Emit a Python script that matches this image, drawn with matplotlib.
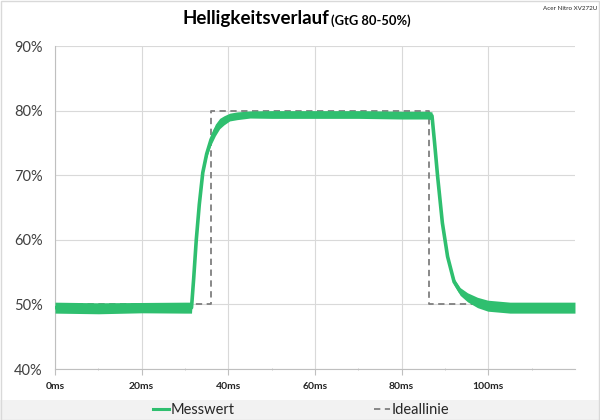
import matplotlib.pyplot as plt
from matplotlib.lines import Line2D
from matplotlib.patches import Rectangle
import numpy as np

plt.rcParams['font.family'] = ['Lato', 'DejaVu Sans']

# Messwert: time in ms, band centre and half band width in %
t_ms = [0, 10, 20, 30, 31.5, 32.0, 32.6, 33.3, 34.1, 35.0,
        36.0, 37.0, 38.0, 39.0, 40.3, 42, 45, 50, 60, 70,
        80, 86.0, 87.0, 87.6, 88.3, 89.4, 90.6, 92.1, 93.5, 95.2,
        97.5, 99.9, 105, 110, 120]
mess_mid = [49.5, 49.4, 49.5, 49.5, 49.5, 54.0, 60.0, 65.5, 70.4, 73.3,
            75.5, 77.0, 78.0, 78.5, 79.0, 79.2, 79.4, 79.4, 79.4, 79.4,
            79.3, 79.3, 79.2, 75.0, 69.8, 62.6, 57.4, 53.5, 52.0, 51.1,
            50.3, 49.8, 49.5, 49.5, 49.5]
mess_spread = [0.85, 0.85, 0.8, 0.85, 0.85, 0.2, 0.2, 0.2, 0.3, 0.5,
               0.8, 0.9, 0.8, 0.7, 0.6, 0.6, 0.55, 0.6, 0.6, 0.6,
               0.6, 0.6, 0.6, 0.2, 0.2, 0.2, 0.3, 0.5, 0.6, 0.7,
               0.8, 0.85, 0.85, 0.85, 0.85]

# Ideallinie
ideal_t = [0, 36.0, 36.0, 86.2, 86.2, 120]
ideal_val = [50, 50, 80, 80, 50, 50]

green = '#2fbf6f'

fig = plt.figure(figsize=(6, 4.2), dpi=100)
ax = fig.add_axes([0.0917, 0.1214, 0.8666, 0.769])

t = np.array(t_ms)
mid = np.array(mess_mid)
sp = np.array(mess_spread)

ax.plot(ideal_t, ideal_val, color='#7f7f7f', lw=1.3, ls=(0, (3.5, 2.5)), zorder=2)
ax.fill_between(t, mid - sp, mid + sp, color=green, lw=0, zorder=3)
ax.plot(t, mid, color=green, lw=2.6, zorder=4)

ax.set_xlim(0, 120)
ax.set_ylim(40, 90)
ax.set_xticks(range(0, 101, 20))
ax.set_xticklabels(['%dms' % v for v in range(0, 101, 20)])
ax.set_xticks(range(10, 120, 20), minor=True)
ax.set_yticks(range(40, 91, 10))
ax.set_yticklabels(['%d%%' % v for v in range(40, 91, 10)])

ax.grid(True, which='major', color='#d9d9d9', lw=0.8)
ax.set_axisbelow(True)
for s in ['top', 'right']:
    ax.spines[s].set_visible(False)
for s in ['left', 'bottom']:
    ax.spines[s].set_color('#bfbfbf')
ax.tick_params(axis='y', length=0, labelsize=10.5, labelcolor='#404040', pad=9)
ax.tick_params(axis='x', which='major', length=4, color='#bfbfbf', labelsize=7.5,
               labelcolor='#262626', pad=5)
ax.tick_params(axis='x', which='minor', length=2, color='#bfbfbf', direction='inout')
for lbl in ax.get_xticklabels():
    lbl.set_fontweight('bold')

# title
fig.text(0.549, 0.955, 'Helligkeitsverlauf', ha='right', va='center',
         fontsize=13.5, fontweight='bold', color='#000000')
fig.text(0.552, 0.950, '(GtG 80-50%)', ha='left', va='center',
         fontsize=9.3, fontweight='bold', color='#000000')
fig.text(0.995, 0.98, 'Acer Nitro XV272U', ha='right', va='center',
         fontsize=4.5, color='#262626')

# legend band
fig.patches.append(Rectangle((0, 0), 1, 20 / 420, transform=fig.transFigure,
                             facecolor='#f2f2f2', edgecolor='none', zorder=0))
fig.patches.append(Rectangle((0.001, 0.001), 0.998, 0.997, transform=fig.transFigure,
                             facecolor='none', edgecolor='#d9d9d9', lw=1, zorder=5))
handles = [Line2D([], [], color=green, lw=2.2),
           Line2D([], [], color='#7f7f7f', lw=1.3, ls=(0, (3.5, 2.5)))]
fig.legend(handles, ['Messwert', 'Ideallinie'], loc='center', bbox_to_anchor=(0.502, 10 / 420),
           ncol=2, frameon=False, fontsize=10.5, handlelength=1.1, handletextpad=0.1,
           columnspacing=9.6, labelcolor='#262626')

fig.savefig('out.png', dpi=100)
